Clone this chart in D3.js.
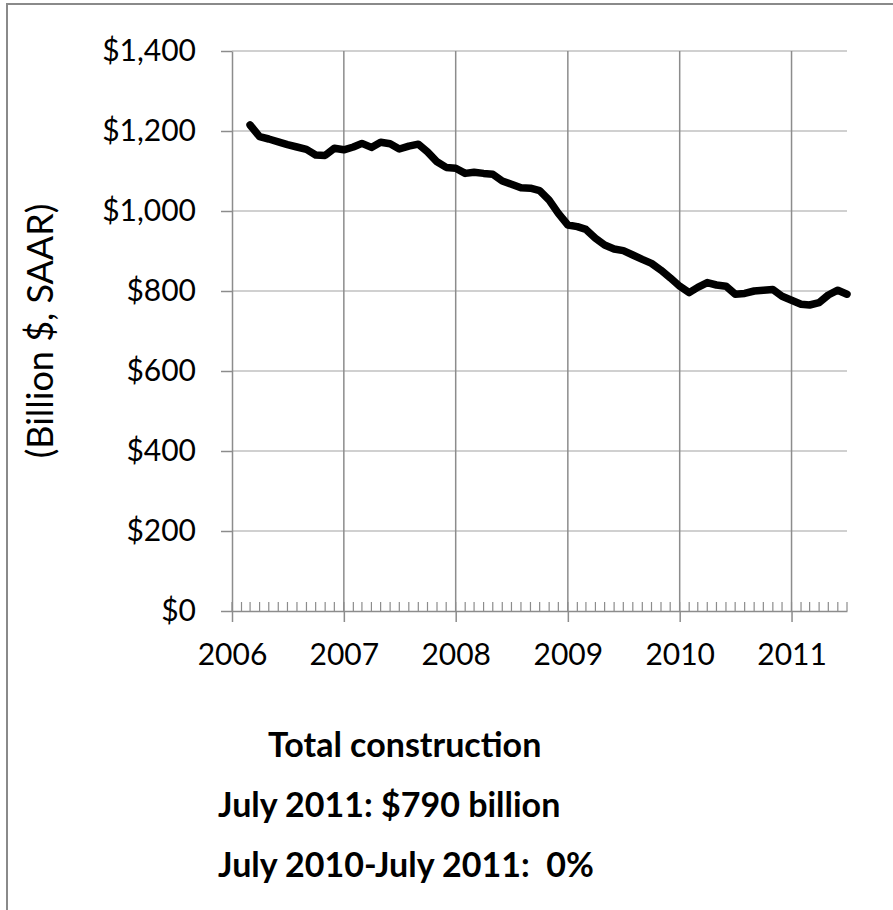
<!DOCTYPE html>
<html>
<head>
<meta charset="utf-8">
<script src="https://cdn.jsdelivr.net/npm/d3@7"></script>
<style>
  body { margin: 0; background: #fff; }
  svg { display: block; }
</style>
</head>
<body>
<div id="chart"></div>
<script>
// monthly total construction spending, billion $ SAAR, Mar 2006 - Jul 2011
const startMonth = '2006-03';
const values = [
  1215, 1186, 1180, 1173, 1166, 1160, 1154, 1140, 1139, 1157,
  1153, 1160, 1169, 1159, 1172, 1168, 1155, 1162, 1167, 1148, 1123, 1109,
  1107, 1094, 1097, 1094, 1092, 1075, 1067, 1058, 1057, 1051, 1027, 994,
  965, 961, 954, 932, 915, 905, 901, 890, 879, 869, 852, 833,
  812, 796, 809, 821, 815, 812, 792, 794, 800, 802, 804, 787,
  777, 767, 765, 771, 790, 802, 792
];
const yTicks = [0, 200, 400, 600, 800, 1000, 1200, 1400];
const yearTicks = ['2006', '2007', '2008', '2009', '2010', '2011'];
const axisEnd = '2011-07';
const yTitle = '(Billion $, SAAR)';
const notes = ['Total construction', 'July 2011: $790 billion', 'July 2010-July 2011:  0%'];

const width = 893, height = 910;
const font = 'Lato, "Open Sans", sans-serif';
const parseMonth = d3.timeParse('%Y-%m');
const parseYear = d3.timeParse('%Y');
const start = parseMonth(startMonth);
const data = values.map((v, i) => ({ date: d3.timeMonth.offset(start, i), value: v }));

const x = d3.scaleTime()
  .domain([parseYear(yearTicks[0]), parseMonth(axisEnd)])
  .range([232, 847]);
const y = d3.scaleLinear()
  .domain([0, 1400])
  .range([611, 51]);

const svg = d3.select('#chart').append('svg')
  .attr('width', width)
  .attr('height', height);

// outer frame
svg.append('rect')
  .attr('x', 7).attr('y', 4)
  .attr('width', 1000).attr('height', 1000)
  .attr('fill', 'none')
  .attr('stroke', '#8a8a8a')
  .attr('stroke-width', 2);

// horizontal grid
svg.append('g')
  .selectAll('line')
  .data(yTicks.filter(d => d > 0))
  .join('line')
  .attr('x1', x.range()[0]).attr('x2', x.range()[1])
  .attr('y1', d => y(d)).attr('y2', d => y(d))
  .attr('stroke', '#c0c0c0')
  .attr('stroke-width', 1.5);

// vertical grid at years
svg.append('g')
  .selectAll('line')
  .data(yearTicks.slice(1).map(parseYear))
  .join('line')
  .attr('x1', d => x(d)).attr('x2', d => x(d))
  .attr('y1', y(1400)).attr('y2', y(0))
  .attr('stroke', '#8c8c8c')
  .attr('stroke-width', 1.5);

// monthly minor ticks
svg.append('g')
  .selectAll('line')
  .data(d3.timeMonth.range(x.domain()[0], d3.timeMonth.offset(x.domain()[1], 1)))
  .join('line')
  .attr('x1', d => x(d)).attr('x2', d => x(d))
  .attr('y1', y(0) - 9).attr('y2', y(0))
  .attr('stroke', '#8c8c8c')
  .attr('stroke-width', 1.2);

const yAxis = svg.append('g')
  .attr('transform', `translate(${x.range()[0]},0)`)
  .call(d3.axisLeft(y)
    .tickValues(yTicks)
    .tickFormat(d => '$' + d3.format(',')(d))
    .tickSize(11)
    .tickPadding(25)
    .tickSizeOuter(0));

const xAxis = svg.append('g')
  .attr('transform', `translate(0,${y(0)})`)
  .call(d3.axisBottom(x)
    .tickValues(yearTicks.map(parseYear))
    .tickFormat(d3.timeFormat('%Y'))
    .tickSize(11)
    .tickPadding(22)
    .tickSizeOuter(0));

[yAxis, xAxis].forEach(ax => {
  ax.select('.domain').attr('stroke', '#8c8c8c').attr('stroke-width', 1.5);
  ax.selectAll('.tick line').attr('stroke', '#8c8c8c').attr('stroke-width', 1.5);
  ax.selectAll('.tick text')
    .attr('fill', '#000')
    .style('font-family', font)
    .style('font-size', '30px');
});

// y axis title
svg.append('text')
  .attr('transform', `translate(53,${y(700)}) rotate(-90)`)
  .attr('text-anchor', 'middle')
  .style('font-family', font)
  .style('font-size', '36px')
  .text(yTitle);

// the series
const line = d3.line()
  .x(d => x(d.date))
  .y(d => y(d.value));

svg.append('path')
  .datum(data)
  .attr('d', line)
  .attr('fill', 'none')
  .attr('stroke', '#000')
  .attr('stroke-width', 7.5)
  .attr('stroke-linejoin', 'round')
  .attr('stroke-linecap', 'round');

// notes below
const noteX = [268, 218, 218];
const noteY = [757, 817, 877];
svg.append('g')
  .selectAll('text')
  .data(notes)
  .join('text')
  .attr('x', (d, i) => noteX[i])
  .attr('y', (d, i) => noteY[i])
  .style('font-family', font)
  .style('font-weight', 'bold')
  .style('font-size', '34px')
  .style('white-space', 'pre')
  .text(d => d);
</script>
</body>
</html>
